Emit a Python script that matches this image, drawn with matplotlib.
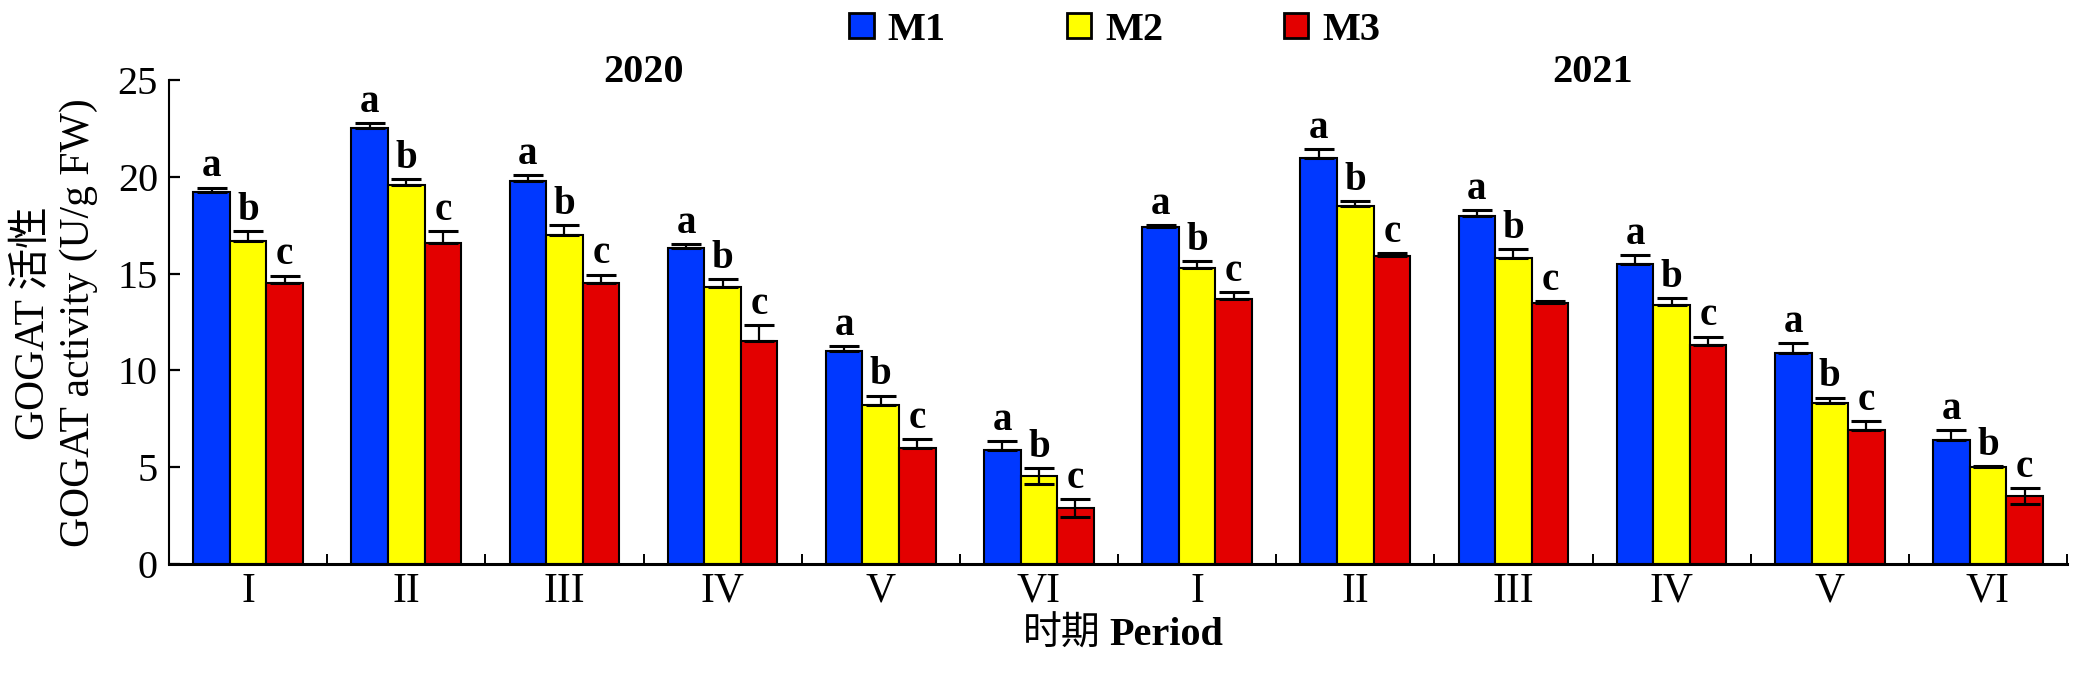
import matplotlib
matplotlib.use('Agg')
import numpy as np
import matplotlib.pyplot as plt
from matplotlib.patches import Patch

plt.rcParams['font.family'] = ['Liberation Serif', 'Noto Sans CJK SC']

periods = ['I', 'II', 'III', 'IV', 'V', 'VI'] * 2
years = ['2020', '2021']
series = ['M1', 'M2', 'M3']
letters = ['a', 'b', 'c']
colors = ['#0038ff', '#ffff00', '#e30000']

# GOGAT activity, 2020 periods I-VI then 2021 periods I-VI
m1 = [19.2, 22.5, 19.8, 16.3, 11.0, 5.9, 17.4, 21.0, 18.0, 15.5, 10.9, 6.4]
m2 = [16.7, 19.6, 17.0, 14.3, 8.2, 4.55, 15.3, 18.5, 15.8, 13.4, 8.3, 5.0]
m3 = [14.5, 16.6, 14.5, 11.5, 6.0, 2.9, 13.7, 15.9, 13.5, 11.3, 6.9, 3.5]

# upper error bars
e1 = [0.25, 0.3, 0.3, 0.25, 0.25, 0.45, 0.1, 0.45, 0.3, 0.45, 0.5, 0.5]
e2 = [0.5, 0.3, 0.5, 0.4, 0.5, 0.4, 0.35, 0.25, 0.45, 0.35, 0.3, 0.05]
e3 = [0.4, 0.6, 0.45, 0.85, 0.45, 0.45, 0.35, 0.15, 0.1, 0.45, 0.5, 0.4]

# lower error bars (only visible on a few bars)
l1 = [0] * 12
l2 = [0, 0, 0, 0, 0, 0.4, 0, 0, 0, 0, 0, 0]
l3 = [0, 0, 0, 0, 0, 0.45, 0, 0, 0, 0, 0, 0.4]


def main():
    fig = plt.figure(figsize=(20.76, 6.73), dpi=100)
    ax = fig.add_axes([0.0814, 0.162, 0.9143, 0.719])

    x = np.arange(len(periods))
    w = 0.231
    vals = [m1, m2, m3]
    errs = [e1, e2, e3]
    lows = [l1, l2, l3]

    for k in range(3):
        pos = x + (k - 1) * w
        ax.bar(pos, vals[k], width=w, color=colors[k], edgecolor='black',
               linewidth=1.5, zorder=2)
        ax.errorbar(pos, vals[k], yerr=[lows[k], errs[k]], fmt='none',
                    ecolor='black', elinewidth=1.6, capsize=11, capthick=2.2,
                    zorder=3)
        for xi, v, e in zip(pos, vals[k], errs[k]):
            ax.annotate(letters[k], (xi, v + e), xytext=(0, 8),
                        textcoords='offset points', ha='center', va='baseline',
                        fontsize=28, fontweight='bold')

    ax.set_xlim(-0.5, len(periods) - 0.5)
    ax.set_ylim(0, 25)
    ax.set_yticks([0, 5, 10, 15, 20, 25])
    ax.set_xticks(x)
    ax.set_xticklabels(periods)
    ax.set_xticks(np.arange(0.5, len(periods), 1.0), minor=True)

    for s in ['top', 'right']:
        ax.spines[s].set_visible(False)
    ax.spines['left'].set_linewidth(1.5)
    ax.spines['bottom'].set_linewidth(2.2)

    ax.tick_params(axis='y', direction='in', length=8, width=1.6, pad=8,
                   labelsize=29)
    ax.tick_params(axis='x', which='major', length=0, pad=6, labelsize=30)
    ax.tick_params(axis='x', which='minor', direction='in', length=7,
                   width=1.4)
    for t in ax.xaxis.get_minor_ticks():
        if abs(t.get_loc() - 5.5) < 1e-6:
            t.tick1line.set_markersize(20)

    for i, yr in enumerate(years):
        ax.text(2.5 + 6 * i, 25.4, yr, ha='center', va='center', fontsize=29,
                fontweight='bold', clip_on=False)

    # x label: Chinese part regular, English part bold
    fig.text(0.530, 0.056, '时期', ha='right', va='center', fontsize=28)
    fig.text(0.5345, 0.056, 'Period', ha='left', va='center', fontsize=29,
             fontweight='bold')
    fig.text(0.027, 0.52, 'GOGAT 活性\nGOGAT activity (U/g FW)', rotation=90,
             ha='center', va='center', fontsize=30, linespacing=1.2,
             multialignment='center')

    handles = [Patch(facecolor=c, edgecolor='black', linewidth=2) for c in colors]
    fig.legend(handles, series, loc='center', bbox_to_anchor=(0.537, 0.955),
               ncol=3, frameon=False, prop={'size': 29, 'weight': 'bold'},
               handlelength=0.6, handleheight=0.6, handletextpad=0.35,
               columnspacing=3.0)

    fig.savefig('out.png', dpi=100)


if __name__ == "__main__":
    main()
